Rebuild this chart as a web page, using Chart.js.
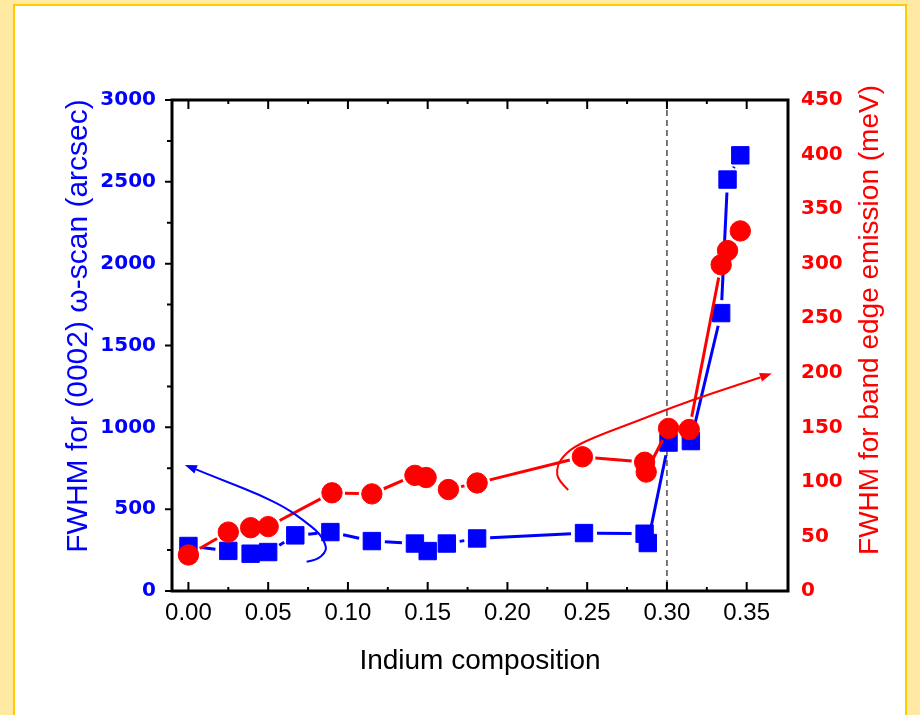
<!DOCTYPE html>
<html>
<head>
<meta charset="utf-8">
<script src="https://cdn.jsdelivr.net/npm/chart.js@4/dist/chart.umd.min.js"></script>
<style>
  html, body { margin: 0; padding: 0; background: #fff; }
  #wrap { position: relative; width: 920px; height: 715px; background: #FFE9A3; overflow: hidden; }
  #panel { position: absolute; left: 13px; top: 4px; right: 13px; bottom: -6px; background: #fff; border: 2px solid #FFCC00; }
  #c { position: absolute; left: 0; top: 0; }
</style>
</head>
<body>
<div id="wrap">
  <div id="panel"></div>
  <canvas id="c" width="920" height="715"></canvas>
</div>
<script>
// Indium composition and X-ray rocking-curve FWHM, (0002) omega-scan, in arcsec
const indiumXrd = [0.000, 0.025, 0.039, 0.050, 0.067, 0.089, 0.115, 0.142, 0.150, 0.162, 0.181, 0.248, 0.286, 0.288, 0.301, 0.315, 0.334, 0.338, 0.346];
const fwhmXrd   = [275, 245, 228, 238, 340, 360, 305, 290, 244, 290, 321, 354, 350, 293, 907, 916, 1698, 2514, 2662];

// Indium composition and FWHM of the band edge emission, in meV
const indiumPl = [0.000, 0.025, 0.039, 0.050, 0.090, 0.115, 0.142, 0.149, 0.163, 0.181, 0.247, 0.286, 0.287, 0.301, 0.314, 0.334, 0.338, 0.346];
const fwhmPl   = [33, 54, 58, 59, 90, 89, 106, 104, 93, 99, 123, 118, 109, 149, 148, 299, 312, 330];

// Axis ticks
const compTicks = [0, 0.05, 0.10, 0.15, 0.20, 0.25, 0.30, 0.35];
const xrdTicks  = [0, 500, 1000, 1500, 2000, 2500, 3000];
const plTicks   = [0, 50, 100, 150, 200, 250, 300, 350, 400, 450];

// Composition where the dashed boundary is drawn
const boundaryComp = 0.30;

// Curved guide arrows pointing each series to its own axis
const xrdArrowComp = [0.0741, 0.0804, 0.0856, 0.0866, 0.0824, 0.0718, 0.0616, 0.0448, 0.0239, -0.0022];
const xrdArrowFwhm = [179, 189, 232, 271, 353, 434, 505, 587, 668, 770];
const plArrowComp  = [0.2381, 0.2317, 0.2308, 0.2329, 0.2411, 0.2580, 0.2831, 0.3038, 0.3288, 0.3501, 0.3658];
const plArrowFwhm  = [92.6, 101.7, 110.9, 120.1, 132, 143, 156.7, 168.6, 181.5, 191.6, 199.3];

const BLUE = '#0000FF';
const RED = '#FF0000';
const SANS = '"Liberation Sans", Arial, Helvetica, sans-serif';
const BOLD_TICKS = { family: '"DejaVu Sans", Verdana, sans-serif', size: 20, weight: 'bold' };

const toPoints = (xs, ys) => xs.map((v, i) => ({ x: v, y: ys[i] }));

function drawArrow(ctx, pts, color, width) {
  ctx.save();
  ctx.strokeStyle = color;
  ctx.fillStyle = color;
  ctx.lineWidth = width;
  ctx.lineJoin = 'round';
  ctx.beginPath();
  ctx.moveTo(pts[0].x, pts[0].y);
  for (let i = 1; i < pts.length - 1; i++) {
    const mx = (pts[i].x + pts[i + 1].x) / 2;
    const my = (pts[i].y + pts[i + 1].y) / 2;
    ctx.quadraticCurveTo(pts[i].x, pts[i].y, mx, my);
  }
  const end = pts[pts.length - 1];
  const prev = pts[pts.length - 2];
  const ang = Math.atan2(end.y - prev.y, end.x - prev.x);
  const headLen = 12, headHalf = 4.5;
  const bx = end.x - Math.cos(ang) * headLen;
  const by = end.y - Math.sin(ang) * headLen;
  ctx.lineTo(bx, by);
  ctx.stroke();
  ctx.beginPath();
  ctx.moveTo(end.x, end.y);
  ctx.lineTo(bx + Math.sin(ang) * headHalf, by - Math.cos(ang) * headHalf);
  ctx.lineTo(bx - Math.sin(ang) * headHalf, by + Math.cos(ang) * headHalf);
  ctx.closePath();
  ctx.fill();
  ctx.restore();
}

const framePlugin = {
  id: 'framePlugin',
  beforeDatasetsDraw(chart) {
    const { ctx, chartArea: a, scales: { x } } = chart;
    const px = x.getPixelForValue(boundaryComp);
    ctx.save();
    ctx.strokeStyle = '#4d4d4d';
    ctx.lineWidth = 1.5;
    ctx.setLineDash([6, 4]);
    ctx.beginPath();
    ctx.moveTo(px, a.top);
    ctx.lineTo(px, a.bottom);
    ctx.stroke();
    ctx.restore();
  },
  // connecting line of each series, broken around the symbols
  beforeDatasetDraw(chart, args) {
    const ds = chart.data.datasets[args.index];
    if (!ds.linkColor) return;
    const pts = args.meta.data;
    const ctx = chart.ctx;
    const gap = ds.linkGap;
    ctx.save();
    ctx.strokeStyle = ds.linkColor;
    ctx.lineWidth = ds.linkWidth;
    ctx.lineCap = 'butt';
    for (let i = 0; i < pts.length - 1; i++) {
      const p0 = pts[i], p1 = pts[i + 1];
      const dx = p1.x - p0.x, dy = p1.y - p0.y;
      const len = Math.hypot(dx, dy);
      if (len <= 2 * gap + 1) continue;
      const ux = dx / len, uy = dy / len;
      ctx.beginPath();
      ctx.moveTo(p0.x + ux * gap, p0.y + uy * gap);
      ctx.lineTo(p1.x - ux * gap, p1.y - uy * gap);
      ctx.stroke();
    }
    ctx.restore();
  },
  afterDatasetsDraw(chart) {
    const { ctx, chartArea: a, scales: { x, y, y1 } } = chart;
    ctx.save();
    ctx.strokeStyle = '#000';
    // ticks
    ctx.lineWidth = 2;
    ctx.beginPath();
    compTicks.forEach((v, i) => {
      const px = x.getPixelForValue(v);
      ctx.moveTo(px, a.bottom); ctx.lineTo(px, a.bottom - 9);
      ctx.moveTo(px, a.top); ctx.lineTo(px, a.top + 9);
      if (i < compTicks.length - 1) {
        const pm = x.getPixelForValue((v + compTicks[i + 1]) / 2);
        ctx.moveTo(pm, a.bottom); ctx.lineTo(pm, a.bottom - 4);
        ctx.moveTo(pm, a.top); ctx.lineTo(pm, a.top + 4);
      }
    });
    xrdTicks.forEach((v, i) => {
      const py = y.getPixelForValue(v);
      ctx.moveTo(a.left, py); ctx.lineTo(a.left - 7, py);
      if (i < xrdTicks.length - 1) {
        const pm = y.getPixelForValue((v + xrdTicks[i + 1]) / 2);
        ctx.moveTo(a.left, pm); ctx.lineTo(a.left - 5, pm);
      }
    });
    ctx.stroke();
    // frame
    ctx.lineWidth = 3;
    ctx.strokeRect(a.left, a.top, a.right - a.left, a.bottom - a.top);
    ctx.restore();

    drawArrow(ctx, xrdArrowComp.map((v, i) => ({ x: x.getPixelForValue(v), y: y.getPixelForValue(xrdArrowFwhm[i]) })), BLUE, 2);
    drawArrow(ctx, plArrowComp.map((v, i) => ({ x: x.getPixelForValue(v), y: y1.getPixelForValue(plArrowFwhm[i]) })), RED, 2);
  },
  afterDraw(chart) {
    const ctx = chart.ctx;
    const vTitle = (text, cx, cy, color, size) => {
      ctx.save();
      ctx.translate(cx, cy);
      ctx.rotate(-Math.PI / 2);
      ctx.textAlign = 'center';
      ctx.textBaseline = 'middle';
      ctx.fillStyle = color;
      ctx.font = size + 'px ' + SANS;
      ctx.fillText(text, 0, 0);
      ctx.restore();
    };
    vTitle('FWHM for (0002) ω-scan (arcsec)', 79, 326, BLUE, 30);
    vTitle('FWHM for band edge emission (meV)', 870, 320, RED, 28);
  }
};

new Chart(document.getElementById('c'), {
  type: 'scatter',
  data: {
    datasets: [
      {
        label: 'XRD FWHM',
        data: toPoints(indiumXrd, fwhmXrd),
        yAxisID: 'y',
        order: 2,
        pointStyle: 'rect',
        pointRadius: 12.3,
        backgroundColor: BLUE,
        borderColor: BLUE,
        borderWidth: 1,
        showLine: false,
        linkColor: BLUE,
        linkWidth: 3,
        linkGap: 13
      },
      {
        label: 'PL FWHM',
        data: toPoints(indiumPl, fwhmPl),
        yAxisID: 'y1',
        order: 1,
        pointStyle: 'circle',
        pointRadius: 10.2,
        backgroundColor: RED,
        borderColor: RED,
        borderWidth: 1,
        showLine: false,
        linkColor: RED,
        linkWidth: 3,
        linkGap: 13
      }
    ]
  },
  options: {
    responsive: false,
    animation: false,
    devicePixelRatio: 1,
    events: [],
    layout: { padding: { top: 100, left: 0, right: 0, bottom: 0 } },
    plugins: { legend: { display: false }, tooltip: { enabled: false } },
    scales: {
      x: {
        type: 'linear',
        position: 'bottom',
        min: -0.0103,
        max: 0.3759,
        afterBuildTicks: s => { s.ticks = compTicks.map(v => ({ value: v })); },
        afterFit: s => { s.height = 124; },
        grid: { display: false },
        border: { display: false },
        ticks: {
          autoSkip: false,
          maxRotation: 0,
          padding: 0,
          color: '#000',
          font: { family: SANS, size: 24 },
          callback: v => Number(v).toFixed(2)
        },
        title: {
          display: true,
          text: 'Indium composition',
          color: '#000',
          font: { family: SANS, size: 28 },
          padding: { top: 0, bottom: 37 }
        }
      },
      y: {
        type: 'linear',
        position: 'left',
        min: 0,
        max: 3000,
        afterBuildTicks: s => { s.ticks = xrdTicks.map(v => ({ value: v })); },
        afterFit: s => { s.width = 172; },
        grid: { display: false },
        border: { display: false },
        ticks: { padding: 8, color: BLUE, font: BOLD_TICKS, callback: v => String(v) }
      },
      y1: {
        type: 'linear',
        position: 'right',
        min: 0,
        max: 450,
        afterBuildTicks: s => { s.ticks = plTicks.map(v => ({ value: v })); },
        afterFit: s => { s.width = 132; },
        grid: { display: false },
        border: { display: false },
        ticks: { padding: 5, color: RED, font: BOLD_TICKS, callback: v => String(v) }
      }
    }
  },
  plugins: [framePlugin]
});
</script>
</body>
</html>
